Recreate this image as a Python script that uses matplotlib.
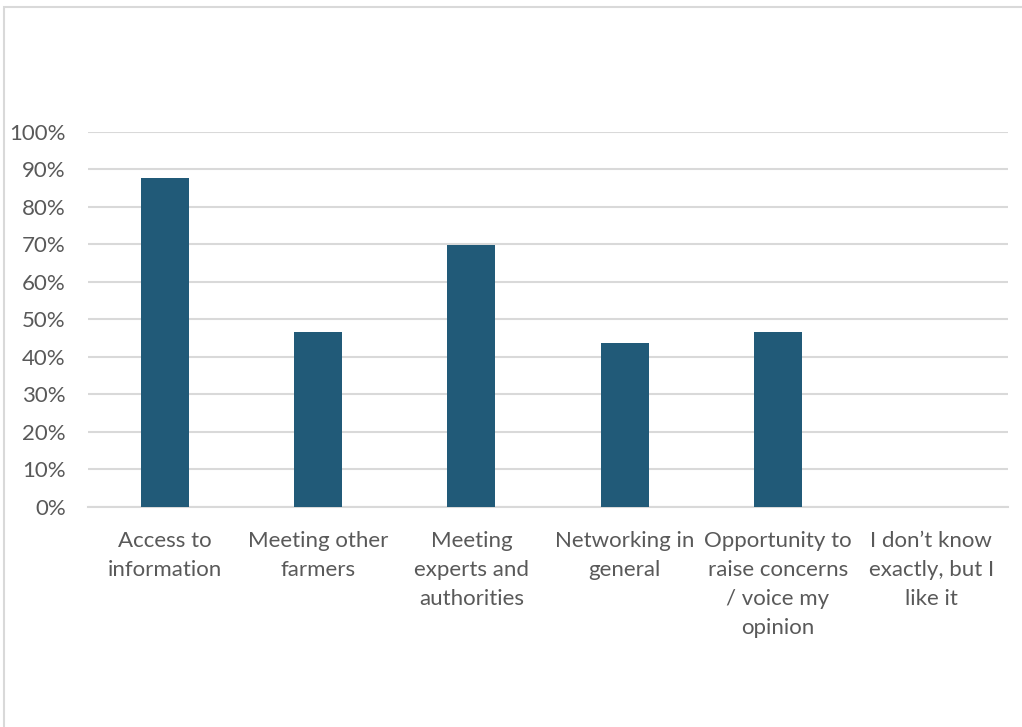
import matplotlib.pyplot as plt
from matplotlib.patches import Rectangle
from matplotlib.ticker import PercentFormatter
import numpy as np

plt.rcParams['font.family'] = ['Lato', 'DejaVu Sans']

categories = ['Access to\ninformation',
              'Meeting other\nfarmers',
              'Meeting\nexperts and\nauthorities',
              'Networking in\ngeneral',
              'Opportunity to\nraise concerns\n/ voice my\nopinion',
              'I don\u2019t know\nexactly, but I\nlike it']
shares = [87.7, 46.6, 69.9, 43.8, 46.6, 0.0]

fig = plt.figure(figsize=(10.22, 7.27), dpi=100)
ax = fig.add_axes([0.0861, 0.3026, 0.9002, 0.5165])

x = np.arange(len(categories))
ax.bar(x, shares, width=0.315, color='#215a78', zorder=3)

ax.set_xlim(-0.5, len(categories) - 0.5)
ax.set_ylim(0, 100)
ax.set_yticks(np.arange(0, 101, 10))
ax.yaxis.set_major_formatter(PercentFormatter(decimals=0))
ax.set_xticks(x)
ax.set_xticklabels(categories, linespacing=1.56)

ax.grid(axis='y', color='#d9d9d9', linewidth=1.5, zorder=0)
for s in ['top', 'right', 'left']:
    ax.spines[s].set_visible(False)
ax.spines['bottom'].set_color('#d9d9d9')
ax.spines['bottom'].set_linewidth(1.5)

ax.tick_params(axis='both', length=0, labelsize=16, labelcolor='#595959')
ax.tick_params(axis='x', pad=17)
ax.tick_params(axis='y', pad=16)

# outer chart frame
fig.patches.append(Rectangle((4 / 1022, -0.1), 1.2, 1 - 7 / 727 + 0.1,
                             transform=fig.transFigure, fill=False,
                             edgecolor='#d9d9d9', linewidth=1.5))

fig.savefig('out.png', dpi=100, facecolor='white')
